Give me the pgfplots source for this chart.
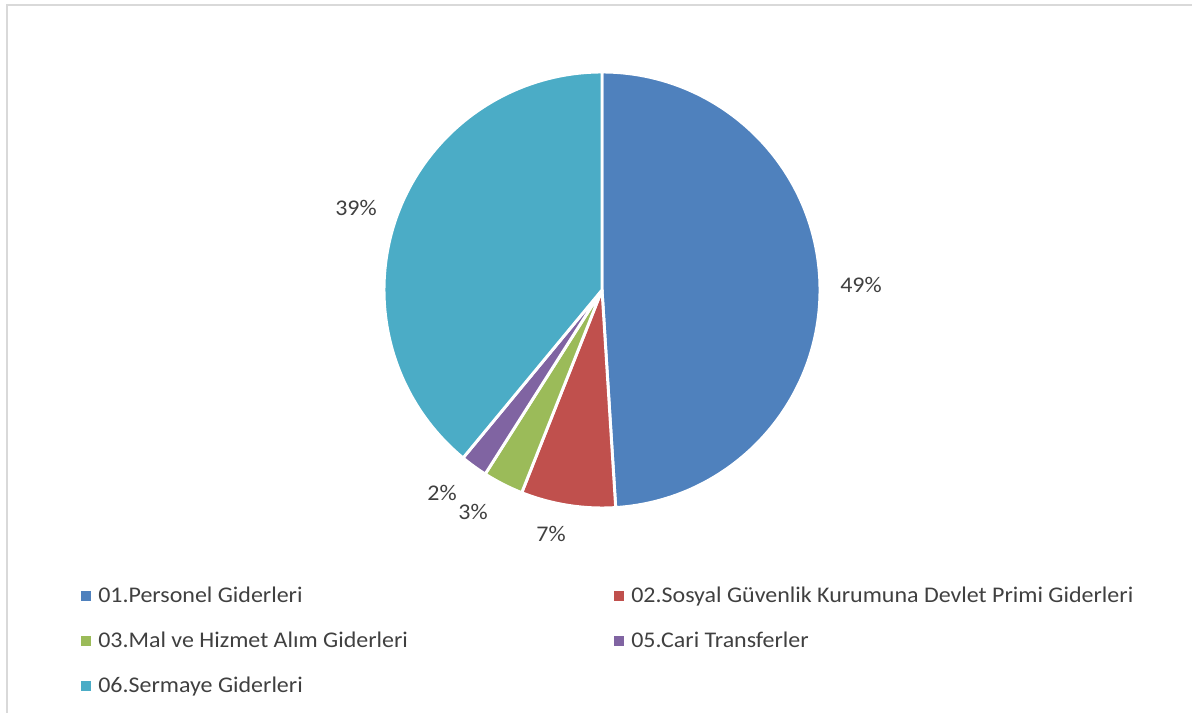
\documentclass[border=0pt]{standalone}
\usepackage{pgfplots}
\pgfplotsset{compat=1.18}
\usepackage{pgfplotstable}
\usepackage{fontspec}
\setmainfont{Carlito}[FakeStretch=1.07]

\definecolor{c0}{HTML}{4F81BD}
\definecolor{c1}{HTML}{C0504D}
\definecolor{c2}{HTML}{9BBB59}
\definecolor{c3}{HTML}{8064A2}
\definecolor{c4}{HTML}{4BACC6}
\definecolor{txt}{HTML}{404040}
\definecolor{frame}{HTML}{D9D9D9}

% share of each group, position of its % label and of its legend entry (pixels)
\pgfplotstableread[col sep=comma]{
name,pct,lx,ly,gx,gy
01.Personel Giderleri,49,861,285,86,596
02.Sosyal Güvenlik Kurumuna Devlet Primi Giderleri,7,551,534,619,596
03.Mal ve Hizmet Alım Giderleri,3,473,512,86,641
05.Cari Transferler,2,442,493,619,641
06.Sermaye Giderleri,39,356,208,86,686
}\piedata

\newcommand\getcell[3]{% row, column, macro name
  \pgfplotstablegetelem{#1}{#2}\of\piedata
  \expandafter\let\csname #3#1\endcsname\pgfplotsretval}

\begin{document}
\begin{tikzpicture}
\def\cum{0}
\pgfplotsforeachungrouped \i in {0,...,4}{%
  \getcell{\i}{name}{nm}%
  \getcell{\i}{pct}{pc}%
  \getcell{\i}{lx}{lx}%
  \getcell{\i}{ly}{ly}%
  \getcell{\i}{gx}{gx}%
  \getcell{\i}{gy}{gy}%
  \pgfmathsetmacro\a{90-3.6*\cum}%
  \pgfmathsetmacro\cum{\cum+\csname pc\i\endcsname}%
  \pgfmathsetmacro\b{90-3.6*\cum}%
  \expandafter\let\csname sa\i\endcsname\a
  \expandafter\let\csname ea\i\endcsname\b
}
\begin{axis}[
    at={(0,0)}, anchor=south west,
    scale only axis, width=894pt, height=534.75pt,
    xmin=0, xmax=1192, ymin=0, ymax=713,
    hide axis, clip=false,
  ]
  % frame of the chart area
  \draw[frame, line width=1.5pt] (axis cs:7,0) -- (axis cs:7,708) -- (axis cs:1192,708);
  % slices, clockwise from the top
  \pgfplotsinvokeforeach{0,...,4}{
    \fill[c#1, draw=white, line width=2.2pt, line join=round]
      (axis cs:602,423) -- ++(\csname sa#1\endcsname:163.5pt)
      arc[start angle=\csname sa#1\endcsname, end angle=\csname ea#1\endcsname, radius=163.5pt]
      -- cycle;
    \node[text=txt, font=\fontsize{16.8}{20}\selectfont]
      at (axis cs:\csname lx#1\endcsname,713-\csname ly#1\endcsname) {\csname pc#1\endcsname\%};
    \fill[c#1] (axis cs:\csname gx#1\endcsname,713-\csname gy#1\endcsname)
      ++(-3.4pt,-3.4pt) rectangle ++(6.8pt,6.8pt);
    \node[text=txt, font=\fontsize{16.8}{20}\selectfont, anchor=base west, inner sep=0pt]
      at (axis cs:\csname gx#1\endcsname+12,713-\csname gy#1\endcsname-7) {\csname nm#1\endcsname};
  }
\end{axis}
\pgfresetboundingbox
\useasboundingbox (0,0) rectangle (894pt,534.75pt);
\end{tikzpicture}
\end{document}
